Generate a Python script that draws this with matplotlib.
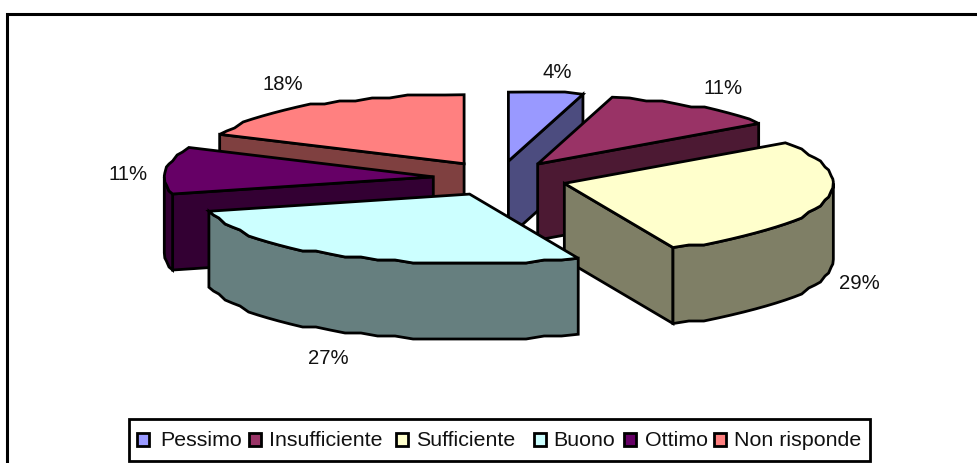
import numpy as np
import matplotlib
matplotlib.use("Agg")
import matplotlib.pyplot as plt
from matplotlib.patches import Polygon, Rectangle

plt.rcParams['font.family'] = ['Liberation Sans', 'DejaVu Sans']

categories = ["Pessimo", "Insufficiente", "Sufficiente", "Buono", "Ottimo", "Non risponde"]
values = [4, 11, 29, 27, 11, 18]
top_colors = ["#9999FF", "#993366", "#FFFFCC", "#CCFFFF", "#660066", "#FF8080"]
side_colors = ["#4C4C7F", "#4C1933", "#7F7F66", "#667F7F", "#330033", "#7F4040"]
draw_order = [5, 0, 1, 4, 2, 3]  # back to front

# pie geometry in pixels
cx, cy = 500, 179.5
rx, ry = 269, 69
ex, ey = 67, 17.5
depth = 76
lw = 2.0
step = 3  # the rim is stepped in the original

fig = plt.figure(figsize=(9.78, 4.64), dpi=100)
ax = fig.add_axes([0, 0, 1, 1])
ax.set_xlim(0, 978)
ax.set_ylim(464, 0)
ax.axis("off")

# chart border, right and bottom sides fall outside the picture
ax.add_patch(Rectangle((7, 15), 1100, 600, fc="white", ec="black", lw=2.2))


def rim(a):
    t = np.radians(a)
    # mild perspective, front and back of the pie look wider
    return rx * np.sin(t) * (1 + 0.13 * np.cos(t) ** 4), -ry * np.cos(t)


def arc_points(x0, y0, a0, a1):
    n = max(2, int((a1 - a0) / 3.5) + 1)
    t = np.linspace(a0, a1, n)
    dx, dy = rim(t)
    ys = y0 + dy
    ys[1:-1] = np.round(ys[1:-1] / step) * step
    return x0 + dx, ys


def wall(ax, x0, y0, a, color):
    dx, dy = rim(a)
    pts = [(x0, y0), (x0 + dx, y0 + dy), (x0 + dx, y0 + dy + depth), (x0, y0 + depth)]
    ax.add_patch(Polygon(pts, closed=True, fc=color, ec="black", lw=lw, joinstyle="miter"))


edges = np.cumsum([0] + values) / sum(values) * 360
for i in draw_order:
    a0, a1 = edges[i], edges[i + 1]
    mid = np.radians((a0 + a1) / 2)
    x0 = cx + ex * np.sin(mid)
    y0 = cy - ey * np.cos(mid)

    if np.sin(np.radians(a0)) < -1e-6:
        wall(ax, x0, y0, a0, side_colors[i])
    if np.sin(np.radians(a1)) > 1e-6:
        wall(ax, x0, y0, a1, side_colors[i])

    # outer rim, front part only
    lo, hi = max(a0, 90), min(a1, 270)
    if hi > lo:
        xs, ys = arc_points(x0, y0, lo, hi)
        pts = list(zip(xs, ys)) + list(zip(xs[::-1], ys[::-1] + depth))
        ax.add_patch(Polygon(pts, closed=True, fc=side_colors[i], ec="black", lw=lw))

    xs, ys = arc_points(x0, y0, a0, a1)
    pts = [(x0, y0)] + list(zip(xs, ys))
    ax.add_patch(Polygon(pts, closed=True, fc=top_colors[i], ec="black", lw=lw))

# percentage labels
labels = [f"{v}%" for v in values]
label_pos = [(557, 72), (723, 88), (859, 284), (328, 359), (128, 175), (283, 85)]
for s, (x, y) in zip(labels, label_pos):
    ax.text(x, y, s, fontsize=14.6, ha="center", va="center", color="#111111")

# legend
ax.add_patch(Rectangle((129, 420), 741, 42, fc="white", ec="black", lw=2))
swatch_x = [137, 249, 396, 534, 624, 714]
text_x = [160, 269, 416, 553, 645, 734]
for s, x, tx, c in zip(categories, swatch_x, text_x, top_colors):
    ax.add_patch(Rectangle((x, 434), 12, 13, fc=c, ec="black", lw=2))
    ax.text(tx, 441, s, fontsize=15.4, ha="left", va="center", color="#111111")

fig.savefig("out.png", dpi=100)
